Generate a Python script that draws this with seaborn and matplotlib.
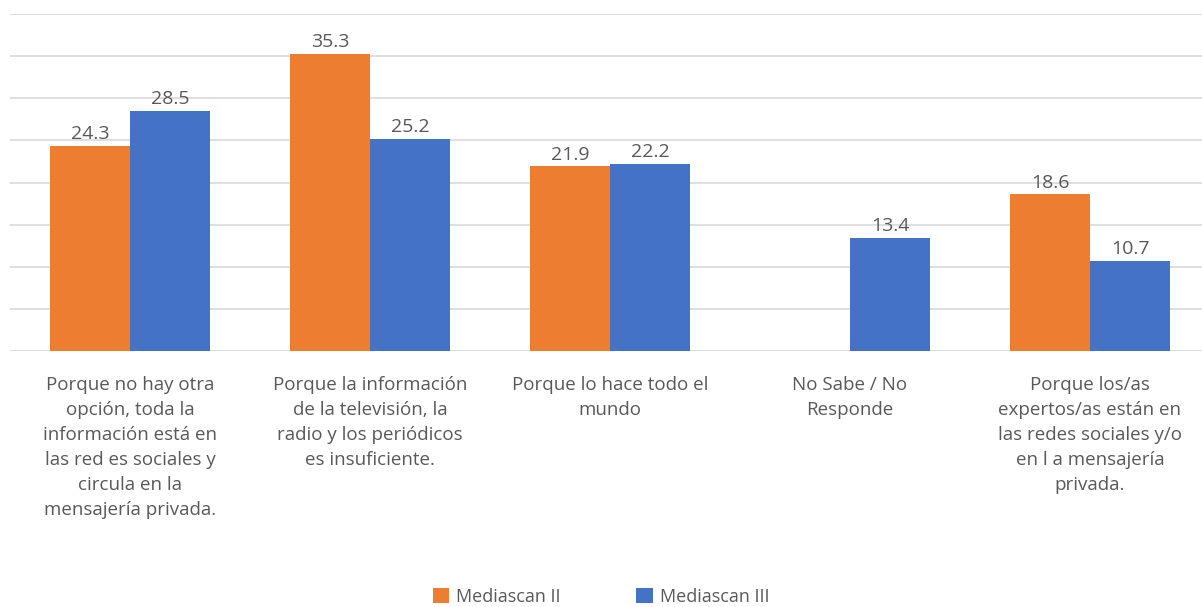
import pandas as pd
import matplotlib.pyplot as plt
import seaborn as sns

# Datos del gráfico
categorias = [
    "Porque no hay otra\nopción, toda la\ninformación está en\nlas red es sociales y\ncircula en la\nmensajería privada.",
    "Porque la información\nde la televisión, la\nradio y los periódicos\nes insuficiente.",
    "Porque lo hace todo el\nmundo",
    "No Sabe / No\nResponde",
    "Porque los/as\nexpertos/as están en\nlas redes sociales y/o\nen l a mensajería\nprivada.",
]
mediascan_ii = [24.3, 35.3, 21.9, None, 18.6]
mediascan_iii = [28.5, 25.2, 22.2, 13.4, 10.7]
series = ["Mediascan II", "Mediascan III"]
colores = ["#ED7D31", "#4472C4"]

df = pd.DataFrame({
    "categoria": categorias * 2,
    "serie": [series[0]] * 5 + [series[1]] * 5,
    "valor": mediascan_ii + mediascan_iii,
}).dropna()

sns.set_style("white")
plt.rcParams["font.family"] = ["Open Sans", "DejaVu Sans"]

fig = plt.figure(figsize=(12.02, 6.07), dpi=100)
ax = fig.add_axes([10 / 1202, 256 / 607, 1200 / 1202, 337 / 607])

sns.barplot(data=df, x="categoria", y="valor", hue="serie", order=categorias,
            hue_order=series, palette=colores, width=0.667, saturation=1,
            linewidth=0, ax=ax, zorder=3)

for cont in ax.containers:
    ax.bar_label(cont, fmt="%.1f", padding=2, fontsize=14, color="#595959")

ax.set_ylim(0, 40)
ax.set_yticks(range(0, 45, 5))
ax.set_yticklabels([])
ax.grid(axis="y", color="#d9d9d9", linewidth=1.2, zorder=0)
ax.tick_params(axis="both", length=0)
ax.tick_params(axis="x", pad=18, labelsize=13.5, labelcolor="#595959")
for lbl in ax.get_xticklabels():
    lbl.set_linespacing(1.5)
sns.despine(ax=ax, left=True, bottom=True)
ax.set_xlabel("")
ax.set_ylabel("")

handles, labels = ax.get_legend_handles_labels()
ax.get_legend().remove()
fig.legend(handles, labels, loc="lower center", bbox_to_anchor=(0.5, -0.025),
           ncol=2, frameon=False, fontsize=13, handlelength=0.9,
           handleheight=0.9, handletextpad=0.4, columnspacing=4.2,
           labelcolor="#595959")

fig.savefig("out.png", dpi=100)
